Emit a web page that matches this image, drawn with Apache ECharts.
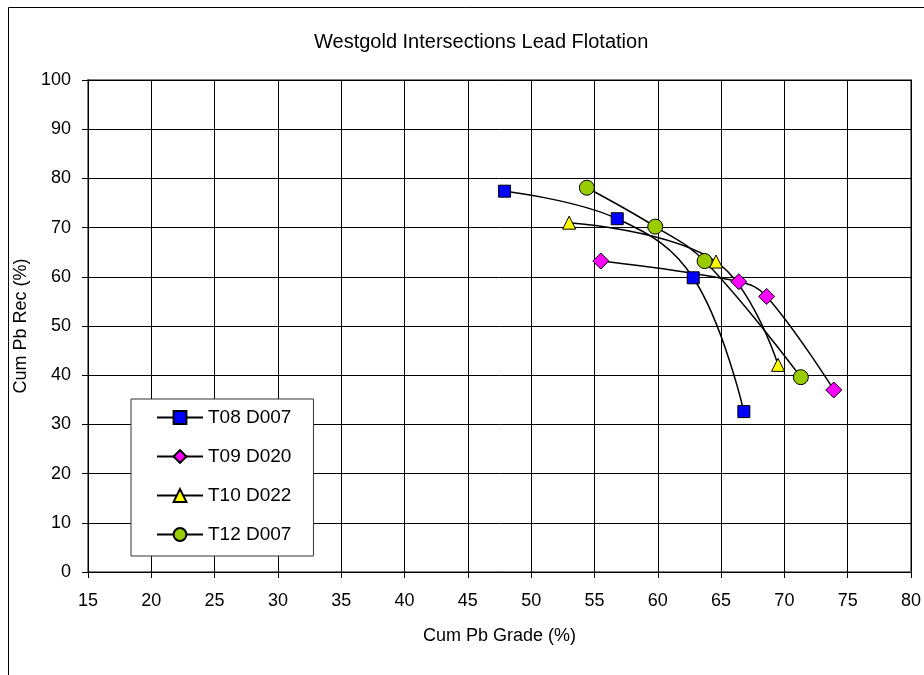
<!DOCTYPE html>
<html style="height: 100%">
<head>
    <meta charset="utf-8">
    <title>Westgold Intersections Lead Flotation</title>
    <script type="text/javascript" src="https://cdn.jsdelivr.net/npm/echarts@6/dist/echarts.min.js"></script>
    <style>
        html, body { margin: 0; padding: 0; background: #fff; }
        #chart { width: 924px; height: 675px; }
    </style>
</head>
<body>
<div id="chart"></div>
<script type="text/javascript">
    // Cum Pb Grade (%), Cum Pb Rec (%) pairs
    var t08d007 = [[47.9, 77.4], [56.8, 71.8], [62.8, 59.8], [66.8, 32.6]];
    var t09d020 = [[55.5, 63.2], [66.4, 59.0], [68.6, 56.0], [73.9, 37.0]];
    var t10d022 = [[53.0, 71.0], [64.6, 63.1], [69.5, 42.1]];
    var t12d007 = [[54.4, 78.1], [59.8, 70.2], [63.7, 63.2], [71.3, 39.6]];
    var seriesNames = ['T08 D007', 'T09 D020', 'T10 D022', 'T12 D007'];

    var font = 'Arial, "Liberation Sans", sans-serif';

    var chart = echarts.init(document.getElementById('chart'));

    function mkSeries(name, data, symbol, size, color) {
        return {
            name: name,
            type: 'line',
            data: data,
            smooth: 0.4,
            symbol: symbol,
            symbolSize: size,
            showAllSymbol: true,
            lineStyle: { color: '#000', width: 1.5 },
            itemStyle: { color: color, borderColor: '#000', borderWidth: 1 },
            emphasis: { disabled: true }
        };
    }

    var option = {
        animation: false,
        backgroundColor: '#fff',
        title: {
            text: 'Westgold Intersections Lead Flotation',
            left: 309,
            top: 27,
            textStyle: { fontFamily: font, fontSize: 20, fontWeight: 'normal', color: '#000' }
        },
        graphic: [{
            type: 'rect',
            shape: { x: 8.5, y: 7.5, width: 1000, height: 1000 },
            style: { fill: 'none', stroke: '#000', lineWidth: 1 },
            z: 0
        }],
        legend: {
            data: seriesNames,
            orient: 'vertical',
            left: 131,
            top: 399,
            padding: [9, 22, 12, 25],
            itemWidth: 46,
            itemHeight: 16,
            itemGap: 20,
            backgroundColor: '#fff',
            borderColor: '#333',
            borderWidth: 1,
            textStyle: { fontFamily: font, fontSize: 19, lineHeight: 16, color: '#000' },
            z: 10
        },
        grid: {
            left: 88,
            right: 11,
            top: 80,
            bottom: 103,
            show: true,
            borderColor: '#808080',
            borderWidth: 2
        },
        xAxis: {
            type: 'value',
            min: 15,
            max: 80,
            interval: 5,
            name: 'Cum Pb Grade (%)',
            nameLocation: 'middle',
            nameGap: 55,
            nameTextStyle: { fontFamily: font, fontSize: 18, color: '#000' },
            axisLine: { show: true, lineStyle: { color: '#000', width: 1 } },
            axisTick: { show: true, length: 6, lineStyle: { color: '#000' } },
            axisLabel: { fontFamily: font, fontSize: 18, color: '#000', margin: 20 },
            splitLine: { show: true, lineStyle: { color: '#000', width: 1 } }
        },
        yAxis: {
            type: 'value',
            min: 0,
            max: 100,
            interval: 10,
            name: 'Cum Pb Rec (%)',
            nameLocation: 'middle',
            nameGap: 54,
            nameTextStyle: { fontFamily: font, fontSize: 18, color: '#000' },
            axisLine: { show: true, lineStyle: { color: '#000', width: 1 } },
            axisTick: { show: true, length: 6, lineStyle: { color: '#000' } },
            axisLabel: { fontFamily: font, fontSize: 18, color: '#000', margin: 17 },
            splitLine: { show: true, lineStyle: { color: '#000', width: 1 } }
        },
        series: [
            mkSeries(seriesNames[0], t08d007, 'rect', 12, '#0000FF'),
            mkSeries(seriesNames[1], t09d020, 'diamond', 16, '#FF00FF'),
            mkSeries(seriesNames[2], t10d022, 'triangle', 13, '#FFFF00'),
            mkSeries(seriesNames[3], t12d007, 'circle', 15, '#99CC00')
        ]
    };

    chart.setOption(option);
</script>
</body>
</html>
